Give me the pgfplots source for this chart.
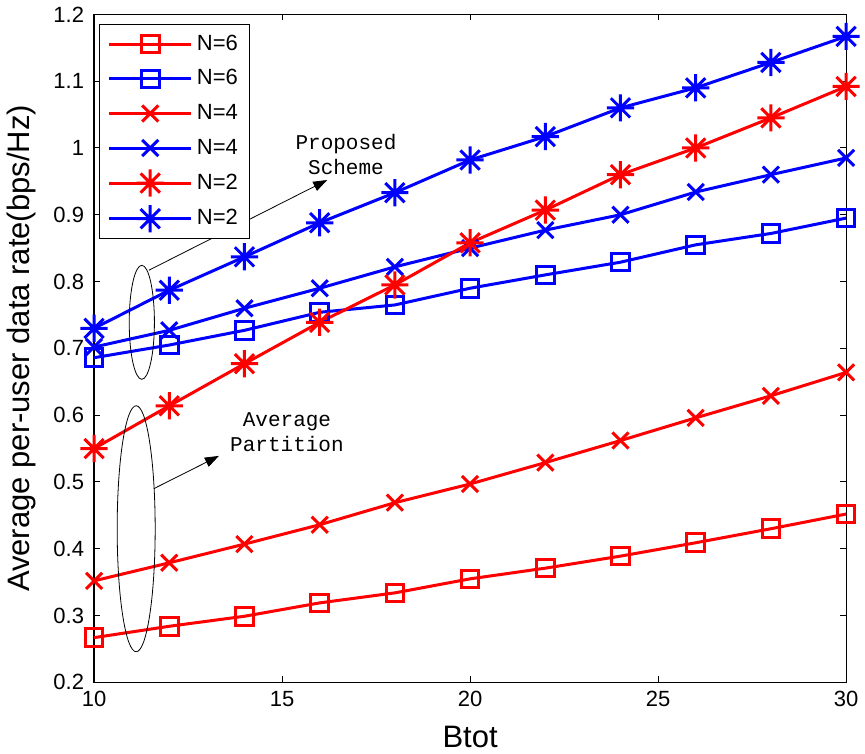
\documentclass[border=0pt]{standalone}
\usepackage{fontspec}
\setmainfont{Liberation Sans}
\newfontfamily\annfont{Liberation Mono}
\usepackage{pgfplots}
\pgfplotsset{compat=1.18}
\usetikzlibrary{arrows.meta}

% MATLAB-style '*' marker: four strokes
\pgfdeclareplotmark{mstar}{%
  \pgfpathmoveto{\pgfqpoint{0pt}{\pgfplotmarksize}}%
  \pgfpathlineto{\pgfqpoint{0pt}{-\pgfplotmarksize}}%
  \pgfpathmoveto{\pgfqpoint{\pgfplotmarksize}{0pt}}%
  \pgfpathlineto{\pgfqpoint{-\pgfplotmarksize}{0pt}}%
  \pgfpathmoveto{\pgfqpoint{.7071\pgfplotmarksize}{.7071\pgfplotmarksize}}%
  \pgfpathlineto{\pgfqpoint{-.7071\pgfplotmarksize}{-.7071\pgfplotmarksize}}%
  \pgfpathmoveto{\pgfqpoint{-.7071\pgfplotmarksize}{.7071\pgfplotmarksize}}%
  \pgfpathlineto{\pgfqpoint{.7071\pgfplotmarksize}{-.7071\pgfplotmarksize}}%
  \pgfusepathqstroke}

\begin{document}
\begin{tikzpicture}
\begin{axis}[
  scale only axis,
  width=376pt, height=334pt,
  xmin=10, xmax=30, ymin=0.2, ymax=1.2,
  xtick={10,15,20,25,30},
  ytick={0.2,0.3,0.4,0.5,0.6,0.7,0.8,0.9,1,1.1,1.2},
  tick align=inside,
  major tick length=3pt,
  axis line style={line width=0.6pt},
  tick style={line width=0.5pt,black},
  tick label style={font=\fontsize{11}{13}\selectfont},
  yticklabel style={xshift=-1.5pt},
  xticklabel style={yshift=-1pt},
  /pgf/number format/assume math mode=true,
  xlabel={Btot},
  ylabel={Average per-user data rate(bps/Hz)},
  label style={font=\fontsize{15.5}{18}\selectfont},
  xlabel style={at={(axis description cs:0.5,-0.081)}, anchor=center},
  ylabel style={at={(axis description cs:-0.097,0.5)}, anchor=center, rotate=0},
  clip=false,
  legend style={
    font=\fontsize{11}{13}\selectfont,
    at={(axis cs:10.13,1.185)}, anchor=north west,
    draw=black, line width=0.5pt,
    inner xsep=4pt, inner ysep=3pt,
    row sep=4.2pt,
  },
  legend cell align=left,
  legend image code/.code={%
    \draw[#1,mark=none] (0cm,0cm) -- (1.45cm,0cm);
    \draw[#1,only marks] plot coordinates {(0.725cm,0cm)};},
  every axis plot/.append style={line width=1.5pt},
]

\addplot[red, mark=square, mark size=4.4pt, mark options={solid,line width=1.5pt}]
  coordinates {(10,0.267) (12,0.284) (14,0.299) (16,0.319) (18,0.334) (20,0.355)
               (22,0.371) (24,0.389) (26,0.409) (28,0.430) (30,0.452)};
\addlegendentry{N=6}

\addplot[blue, mark=square, mark size=4.4pt, mark options={solid,line width=1.5pt}]
  coordinates {(10,0.686) (12,0.705) (14,0.727) (16,0.754) (18,0.765) (20,0.790)
               (22,0.810) (24,0.829) (26,0.855) (28,0.872) (30,0.895)};
\addlegendentry{N=6}

\addplot[red, mark=x, mark size=5.7pt, mark options={solid,line width=1.5pt}]
  coordinates {(10,0.352) (12,0.379) (14,0.407) (16,0.436) (18,0.469) (20,0.497)
               (22,0.529) (24,0.562) (26,0.596) (28,0.629) (30,0.664)};
\addlegendentry{N=4}

\addplot[blue, mark=x, mark size=5.7pt, mark options={solid,line width=1.5pt}]
  coordinates {(10,0.702) (12,0.727) (14,0.760) (16,0.790) (18,0.822) (20,0.850)
               (22,0.877) (24,0.900) (26,0.934) (28,0.960) (30,0.985)};
\addlegendentry{N=4}

\addplot[red, mark=mstar, mark size=6.8pt, mark options={solid,line width=1.5pt}]
  coordinates {(10,0.550) (12,0.614) (14,0.677) (16,0.739) (18,0.795) (20,0.858)
               (22,0.907) (24,0.960) (26,1.000) (28,1.045) (30,1.092)};
\addlegendentry{N=2}

\addplot[blue, mark=mstar, mark size=6.8pt, mark options={solid,line width=1.5pt}]
  coordinates {(10,0.730) (12,0.787) (14,0.837) (16,0.888) (18,0.933) (20,0.982)
               (22,1.017) (24,1.060) (26,1.090) (28,1.128) (30,1.167)};
\addlegendentry{N=2}

% annotations
\draw[black, line width=0.4pt] (axis cs:11.27,0.739) ellipse [x radius=6.3pt, y radius=28.5pt];
\draw[black, line width=0.4pt, -{Triangle[length=7pt,width=5pt]}]
  (axis cs:11.46,0.817) -- (axis cs:16.2,0.952);
\node[font=\annfont\fontsize{10.5}{12.5}\selectfont, align=center]
  at (axis cs:16.7,0.990) {Proposed\\Scheme};

\draw[black, line width=0.4pt] (axis cs:11.12,0.43) ellipse [x radius=9.5pt, y radius=61.5pt];
\draw[black, line width=0.4pt, -{Triangle[length=7pt,width=5pt]}]
  (axis cs:11.59,0.49) -- (axis cs:13.32,0.539);
\node[font=\annfont\fontsize{10.5}{12.5}\selectfont, align=center]
  at (axis cs:15.13,0.574) {Average\\Partition};

\end{axis}
\end{tikzpicture}
\end{document}
